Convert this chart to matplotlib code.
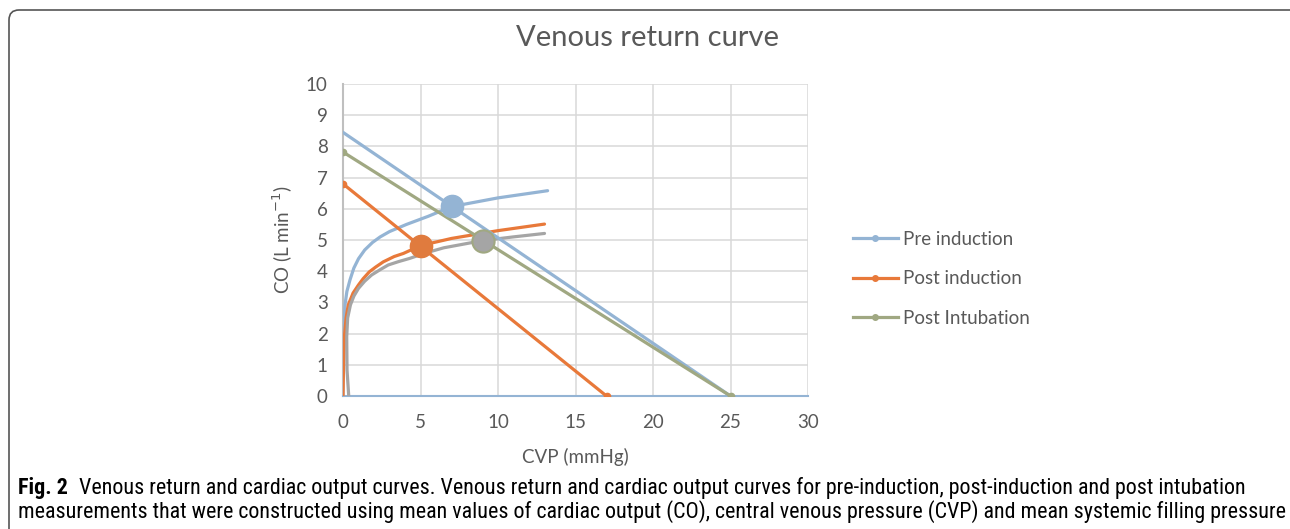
import matplotlib
matplotlib.use('Agg')
import matplotlib.pyplot as plt
import matplotlib.font_manager as fm
from matplotlib.patches import FancyBboxPatch
from matplotlib.transforms import IdentityTransform
from matplotlib.lines import Line2D

# venous return lines (straight, endpoints)
vr_pre_x = [0, 25]
vr_pre_y = [8.45, 0]
vr_post_ind_x = [0, 17]
vr_post_ind_y = [6.8, 0]
vr_post_int_x = [0, 25]
vr_post_int_y = [7.82, 0]

# cardiac output curves
co_pre_x = [0.0, 0.0, 0.02, 0.13, 0.25, 0.45, 0.7, 1.0, 1.4, 1.9, 2.4, 3.0, 4.1, 5.5, 7.0, 10.0, 13.2]
co_pre_y = [0.0, 0.83, 1.9, 2.92, 3.35, 3.72, 4.1, 4.4, 4.68, 4.92, 5.1, 5.27, 5.5, 5.76, 6.07, 6.35, 6.58]
co_post_ind_x = [0.0, 0.03, 0.09, 0.2, 0.34, 0.65, 1.0, 1.3, 1.7, 2.1, 2.6, 3.3, 3.9, 5.0, 7.0, 10.0, 13.0]
co_post_ind_y = [0.0, 0.83, 1.9, 2.5, 2.92, 3.3, 3.56, 3.76, 3.98, 4.13, 4.3, 4.47, 4.57, 4.82, 5.05, 5.3, 5.51]
co_post_int_x = [0.37, 0.26, 0.24, 0.3, 0.48, 0.7, 1.0, 1.4, 1.85, 2.4, 2.92, 3.6, 4.3, 5.3, 6.5, 9.0, 11.0, 13.0]
co_post_int_y = [0.0, 0.83, 1.9, 2.5, 2.92, 3.2, 3.45, 3.68, 3.88, 4.05, 4.2, 4.31, 4.41, 4.58, 4.75, 4.98, 5.1, 5.21]

# intersections (big dots)
pt_x = [7.0, 5.0, 9.0]
pt_y = [6.08, 4.82, 4.98]

labels = ['Pre induction', 'Post induction', 'Post Intubation']
blue = '#94B4D4'
orange = '#E8793A'
olive = '#A0A882'
grey = '#A5A5A5'
txt = '#595959'

plt.rcParams['font.family'] = ['Lato', 'DejaVu Sans']

# a narrow face for the caption, if one is installed
names = {f.name for f in fm.fontManager.ttflist}
cap_family = None
for cand in ['Liberation Sans Narrow', 'Roboto Condensed', 'Open Sans Condensed',
             'Noto Sans Condensed', 'DejaVu Sans Condensed', 'Noto Sans Display Condensed']:
    if cand in names:
        cap_family = cand
        break
cap_stretch = 'normal'
if cap_family is None:
    for f in fm.fontManager.ttflist:
        if f.name in ('DejaVu Sans', 'Noto Sans', 'Open Sans', 'Roboto') and \
                str(f.stretch) in ('condensed', 'semi-condensed', '75', '87.5'):
            cap_family = f.name
            cap_stretch = 'condensed'
            break
if cap_family is None:
    cap_family = 'Lato'

fig = plt.figure(figsize=(12.9, 5.29), dpi=100)
ax = fig.add_axes([343/1290, 1 - 396/529, 465/1290, 312/529])

lw = 2.3
ax.plot(co_pre_x, co_pre_y, color=blue, lw=lw, solid_capstyle='round', solid_joinstyle='round', zorder=3)
ax.plot(co_post_ind_x, co_post_ind_y, color=orange, lw=lw, solid_capstyle='round', solid_joinstyle='round', zorder=3)
ax.plot(co_post_int_x, co_post_int_y, color=grey, lw=lw, solid_capstyle='round', solid_joinstyle='round', zorder=3)

ax.plot(vr_pre_x, vr_pre_y, color=blue, lw=lw, zorder=4)
ax.plot(vr_post_int_x, vr_post_int_y, color=olive, lw=lw, marker='o', ms=4.5, zorder=4)
ax.plot(vr_post_ind_x, vr_post_ind_y, color=orange, lw=lw, marker='o', ms=4.5, zorder=4)

ax.plot(pt_x[0], pt_y[0], 'o', ms=16, color=blue, mec=blue, zorder=5)
ax.plot(pt_x[1], pt_y[1], 'o', ms=16, color='#E07B3E', mec='#E07B3E', zorder=5)
ax.plot(pt_x[2], pt_y[2], 'o', ms=16, color=grey, mec=olive, mew=1.5, zorder=5)

ax.set_xlim(0, 30)
ax.set_ylim(0, 10)
ax.set_xticks(range(0, 31, 5))
ax.set_yticks(range(0, 11))
ax.grid(True, color='#D9D9D9', lw=1.1)
ax.set_axisbelow(True)
for s in ['top', 'right']:
    ax.spines[s].set_visible(False)
ax.spines['left'].set_color('#BFBFBF')
ax.spines['left'].set_linewidth(1.5)
ax.spines['bottom'].set_color(blue)
ax.spines['bottom'].set_linewidth(1.5)
ax.tick_params(length=0, labelsize=13.5, colors=txt, pad=11)
ax.tick_params(axis='x', pad=13)

ax.set_xlabel('CVP (mmHg)', fontsize=13.5, color=txt, labelpad=12)
ax.set_ylabel('CO (L min$^{-1}$)', fontsize=13.5, color=txt, labelpad=8)
fig.text(647/1290, 1 - 38/529, 'Venous return curve', fontsize=21, color=txt,
         ha='center', va='center')

handles = [Line2D([], [], color=c, lw=lw, marker='o', ms=4) for c in (blue, orange, olive)]
fig.legend(handles, labels, loc='center left', bbox_to_anchor=(836/1290, 1 - 279/529),
           frameon=False, fontsize=13.5, labelcolor=txt, handlelength=2.4,
           handletextpad=0.25, labelspacing=1.2, numpoints=1)

# caption
cap_size = 15.8
fig.text(18/1290, 1 - 488/529, 'Fig. 2', fontsize=cap_size, fontweight='bold',
         family=cap_family, fontstretch=cap_stretch, va='center')
fig.text(79/1290, 1 - 488/529,
         'Venous return and cardiac output curves. Venous return and cardiac output curves '
         'for pre-induction, post-induction and post intubation',
         fontsize=cap_size, family=cap_family, fontstretch=cap_stretch, va='center')
fig.text(18/1290, 1 - 512/529,
         'measurements that were constructed using mean values of cardiac output (CO), '
         'central venous pressure (CVP) and mean systemic filling pressure',
         fontsize=cap_size, family=cap_family, fontstretch=cap_stretch, va='center')

# rounded frame around the figure
frame = FancyBboxPatch((9, -30), 1320, 529 - 10 + 30,
                       boxstyle='round,pad=0,rounding_size=10',
                       transform=IdentityTransform(), fill=False,
                       ec='#555555', lw=1.2)
fig.add_artist(frame)

fig.savefig('out.png', dpi=100)
